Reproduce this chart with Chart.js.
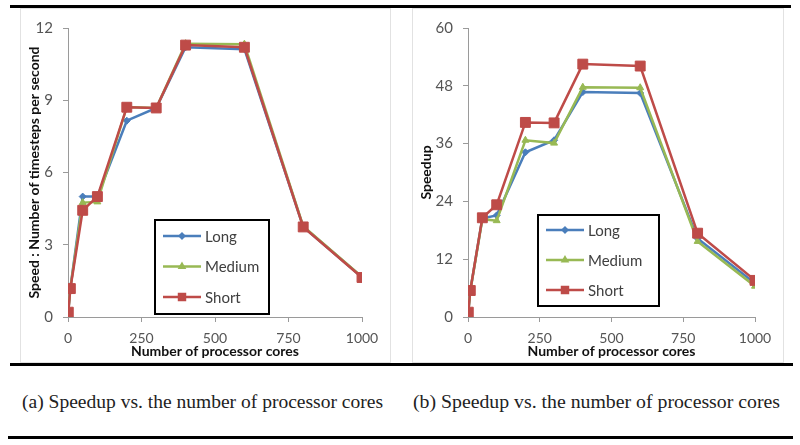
<!DOCTYPE html>
<html>
<head>
<meta charset="utf-8">
<script src="https://cdn.jsdelivr.net/npm/chart.js@4.4.1/dist/chart.umd.min.js"></script>
<style>
  body { margin: 0; background: #fff; width: 800px; height: 445px; position: relative; overflow: hidden; }
  .rule { position: absolute; height: 3px; background: #000; }
  .box { position: absolute; border: 1px solid #e2e2e2; box-sizing: border-box; }
  .box canvas { position: absolute; left: 0; top: 0; }
  .cap { position: absolute; font-family: "Liberation Serif", "DejaVu Serif", serif; font-size: 19px; color: #222;
         white-space: nowrap; transform-origin: left center; line-height: 1; }
</style>
</head>
<body>
<div class="box" style="left:20px; top:8px; width:371px; height:355px;"><canvas id="speedChart" width="370" height="354"></canvas></div>
<div class="box" style="left:412px; top:8px; width:372px; height:355px;"><canvas id="speedupChart" width="371" height="354"></canvas></div>
<div class="rule" style="left:10px; top:5px; width:781px;"></div>
<div class="rule" style="left:10px; top:363px; width:783px;"></div>
<div class="rule" style="left:8px; top:436px; width:785px;"></div>
<div class="cap" id="capA" style="left:22px; top:392px;">(a) Speedup vs. the number of processor cores</div>
<div class="cap" id="capB" style="left:413px; top:392px;">(b) Speedup vs. the number of processor cores</div>

<script>
// données
const cores = [1, 8, 50, 100, 200, 300, 400, 600, 800, 1000];
const seriesNames = ['Long', 'Medium', 'Short'];

// (a) vitesse : pas de temps par seconde
const speedLong   = [0.24, 1.2, 5.0, 5.0, 8.15, 8.68, 11.2, 11.12, 3.75, 1.65];
const speedMedium = [0.23, 1.2, 4.75, 4.78, 8.72, 8.68, 11.35, 11.33, 3.77, 1.66];
const speedShort  = [0.2, 1.18, 4.43, 5.0, 8.71, 8.68, 11.29, 11.2, 3.74, 1.64];

// (b) speedup
const speedupLong   = [1, 5.5, 20.5, 21.1, 34.2, 36.7, 46.7, 46.5, 16.3, 7.0];
const speedupMedium = [1, 5.4, 20.3, 20.0, 36.7, 36.1, 47.7, 47.6, 15.7, 6.4];
const speedupShort  = [1, 5.5, 20.6, 23.3, 40.4, 40.3, 52.5, 52.1, 17.4, 7.6];

const coreTicks = [0, 250, 500, 750, 1000];
const speedTicks = [0, 3, 6, 9, 12];
const speedupTicks = [0, 12, 24, 36, 48, 60];

const colors = ['#4a7ebb', '#98b954', '#be4b48'];
const styles = [
  { pointStyle: 'rectRot', pointRadius: 3.5, order: 3 },
  { pointStyle: 'triangle', pointRadius: 4, order: 2 },
  { pointStyle: 'rect', pointRadius: 7, order: 1 }
];

function makeDatasets(list) {
  return list.map(function(vals, i) {
    return {
      label: seriesNames[i],
      data: cores.map(function(c, k) { return { x: c, y: vals[k] }; }),
      borderColor: colors[i],
      backgroundColor: colors[i],
      borderWidth: 2.5,
      pointStyle: styles[i].pointStyle,
      pointRadius: styles[i].pointRadius,
      pointBorderWidth: 1,
      order: styles[i].order,
      tension: 0
    };
  });
}

// légende encadrée dessinée dans la zone du graphique
const boxLegend = {
  id: 'boxLegend',
  afterDraw(chart, args, opts) {
    const ctx = chart.ctx;
    const a = chart.chartArea;
    const x = a.left + opts.dx, y = a.top + opts.dy;
    ctx.save();
    ctx.fillStyle = '#fff';
    ctx.fillRect(x, y, opts.w, opts.h);
    ctx.lineWidth = 2;
    ctx.strokeStyle = '#000';
    ctx.strokeRect(x, y, opts.w, opts.h);
    ctx.font = '15px Lato, "Open Sans", sans-serif';
    ctx.textBaseline = 'middle';
    chart.data.datasets.forEach(function(ds, i) {
      const ly = y + opts.first + i * opts.step;
      ctx.strokeStyle = ds.borderColor;
      ctx.lineWidth = 2.5;
      ctx.beginPath();
      ctx.moveTo(x + 8, ly);
      ctx.lineTo(x + 46, ly);
      ctx.stroke();
      ctx.fillStyle = ds.borderColor;
      const r = ds.pointStyle === 'rect' ? 4.2 : (ds.pointStyle === 'triangle' ? 2.5 : 2.2);
      Chart.helpers.drawPoint(ctx, { pointStyle: ds.pointStyle, radius: r, borderWidth: 1, rotation: 0 }, x + 27, ly);
      ctx.fillStyle = '#404040';
      ctx.fillText(ds.label, x + 50, ly + 1);
    });
    ctx.restore();
  }
};

function makeChart(id, list, yTicks, yMax, yTitle, yWidth, legendPos) {
  return new Chart(document.getElementById(id), {
    type: 'line',
    data: { datasets: makeDatasets(list) },
    plugins: [boxLegend],
    options: {
      responsive: false,
      animation: false,
      devicePixelRatio: 1,
      layout: { padding: { left: 0, right: 29, top: 10, bottom: 0 } },
      plugins: {
        legend: { display: false },
        tooltip: { enabled: false },
        boxLegend: legendPos
      },
      scales: {
        x: {
          type: 'linear', min: 0, max: 1000,
          afterBuildTicks: function(s) { s.ticks = coreTicks.map(function(v) { return { value: v }; }); },
          afterFit: function(s) { s.height = 46; },
          grid: { drawOnChartArea: false, drawTicks: true, tickLength: 5, color: '#9a9a9a' },
          border: { display: true, color: '#9a9a9a', width: 1 },
          ticks: { padding: 8, color: '#555', font: { family: 'Lato', size: 14 }, maxRotation: 0,
                   callback: function(v) { return String(v); } },
          title: { display: true, text: 'Number of processor cores', color: '#111',
                   font: { family: 'Lato', size: 14, weight: 'bold' }, padding: { top: 0, bottom: 3 } }
        },
        y: {
          min: 0, max: yMax,
          afterBuildTicks: function(s) { s.ticks = yTicks.map(function(v) { return { value: v }; }); },
          afterFit: function(s) { s.width = yWidth; },
          grid: { drawOnChartArea: false, drawTicks: true, tickLength: 5, color: '#9a9a9a' },
          border: { display: true, color: '#9a9a9a', width: 1 },
          ticks: { padding: 10, color: '#555', font: { family: 'Lato', size: 15 } },
          title: { display: true, text: yTitle, color: '#111',
                   font: { family: 'Lato', size: 14, weight: 'bold' }, padding: { top: 5, bottom: 0 } }
        }
      }
    }
  });
}

makeChart('speedChart', [speedLong, speedMedium, speedShort], speedTicks, 12,
  'Speed : Number of timesteps per second', 47,
  { dx: 87, dy: 192, w: 114, h: 94, first: 16, step: 30.5 });

makeChart('speedupChart', [speedupLong, speedupMedium, speedupShort], speedupTicks, 60,
  'Speedup', 55,
  { dx: 70, dy: 187, w: 121, h: 91, first: 15, step: 30 });

// ajuste la largeur des légendes sous les figures
[['capA', 361], ['capB', 367]].forEach(function(p) {
  const el = document.getElementById(p[0]);
  const w = el.getBoundingClientRect().width;
  el.style.transform = 'scaleX(' + (p[1] / w) + ')';
});
</script>
</body>
</html>
